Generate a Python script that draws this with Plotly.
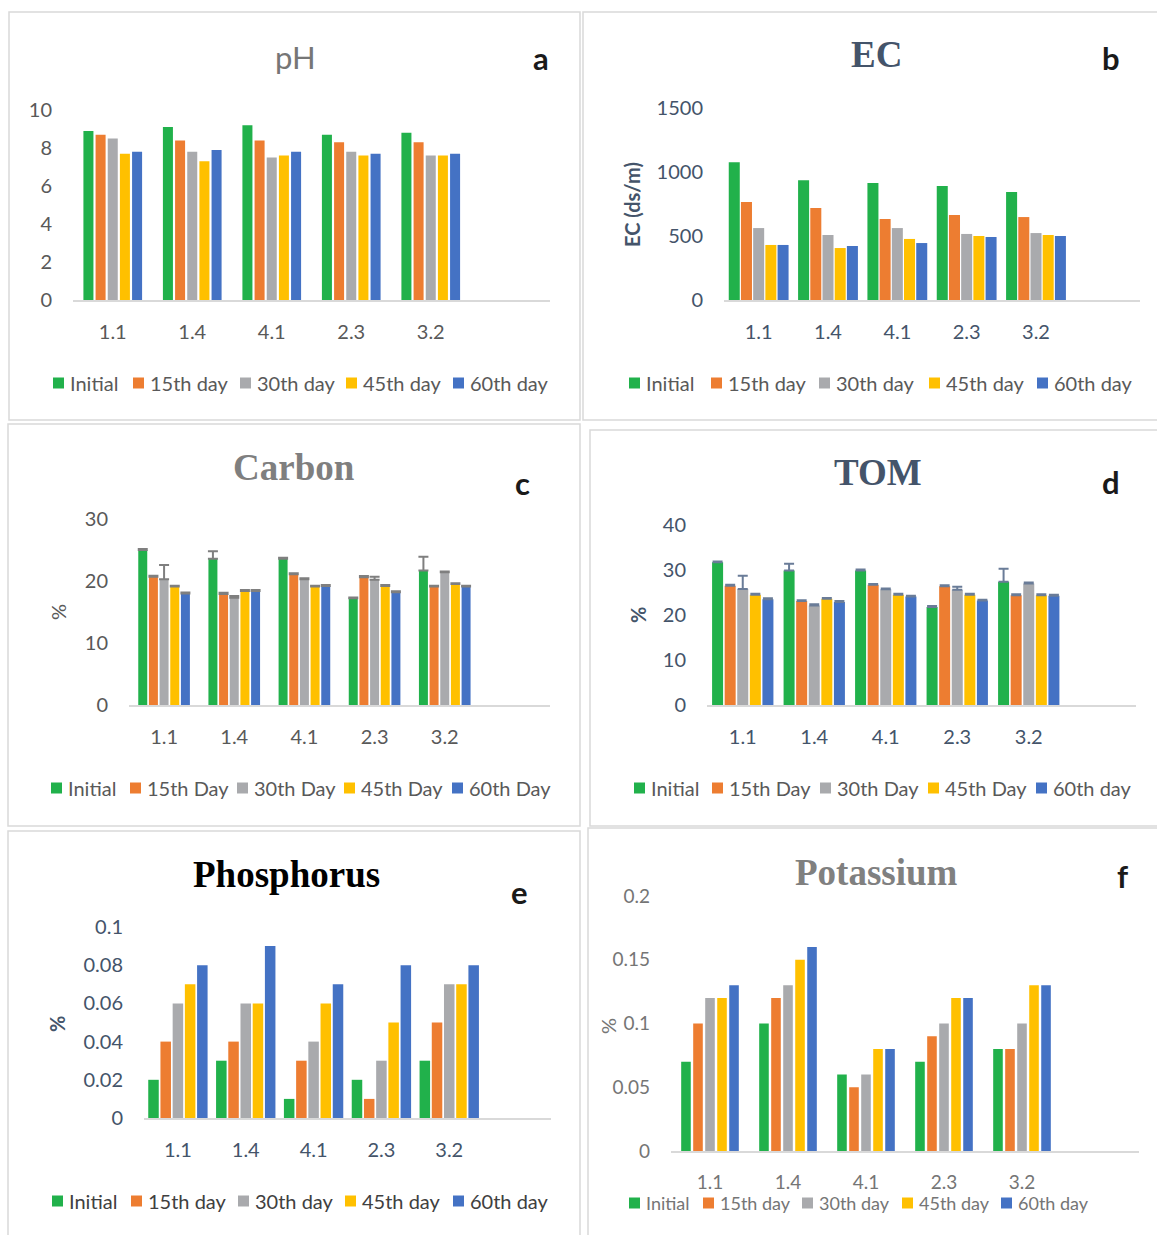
import plotly.graph_objects as go

W, H = 1157, 1235

# ---------------- data ----------------
categories = ["1.1", "1.4", "4.1", "2.3", "3.2"]

names_lower = ["Initial", "15th day", "30th day", "45th day", "60th day"]
names_upper = ["Initial", "15th Day", "30th Day", "45th Day", "60th Day"]
names_tom = ["Initial", "15th Day", "30th Day", "45th Day", "60th day"]

# rows: Initial, 15th, 30th, 45th, 60th ; columns follow categories
ph_values = [
    [8.9, 9.1, 9.2, 8.7, 8.8],
    [8.7, 8.4, 8.4, 8.3, 8.3],
    [8.5, 7.8, 7.5, 7.8, 7.6],
    [7.7, 7.3, 7.6, 7.6, 7.6],
    [7.8, 7.9, 7.8, 7.7, 7.7],
]
ec_values = [
    [1076, 935, 914, 891, 844],
    [766, 719, 633, 664, 648],
    [562, 508, 562, 516, 523],
    [430, 406, 477, 500, 508],
    [430, 422, 445, 492, 500],
]
carbon_values = [
    [25.0, 23.6, 23.6, 17.2, 21.7],
    [20.7, 17.9, 21.1, 20.6, 19.1],
    [20.3, 17.3, 20.3, 20.2, 21.4],
    [19.1, 18.4, 19.1, 19.2, 19.5],
    [18.0, 18.4, 19.2, 18.2, 19.1],
]
carbon_errors = [
    [0.15, 1.2, 0.15, 0.15, 2.2],
    [0.15, 0.2, 0.15, 0.2, 0.15],
    [2.3, 0.3, 0.15, 0.5, 0.15],
    [0.15, 0.15, 0.15, 0.15, 0.15],
    [0.15, 0.15, 0.15, 0.15, 0.15],
]
tom_values = [
    [31.7, 29.9, 29.9, 21.8, 27.4],
    [26.5, 23.1, 26.7, 26.4, 24.4],
    [25.8, 22.1, 25.7, 25.6, 27.0],
    [24.5, 23.6, 24.5, 24.5, 24.4],
    [23.5, 22.9, 24.1, 23.2, 24.3],
]
tom_errors = [
    [0.2, 1.5, 0.2, 0.2, 2.9],
    [0.2, 0.2, 0.2, 0.2, 0.2],
    [2.9, 0.3, 0.2, 0.7, 0.2],
    [0.2, 0.2, 0.2, 0.2, 0.2],
    [0.2, 0.2, 0.2, 0.2, 0.2],
]
phosphorus_values = [
    [0.02, 0.03, 0.01, 0.02, 0.03],
    [0.04, 0.04, 0.03, 0.01, 0.05],
    [0.06, 0.06, 0.04, 0.03, 0.07],
    [0.07, 0.06, 0.06, 0.05, 0.07],
    [0.08, 0.09, 0.07, 0.08, 0.08],
]
potassium_values = [
    [0.07, 0.10, 0.06, 0.07, 0.08],
    [0.10, 0.12, 0.05, 0.09, 0.08],
    [0.12, 0.13, 0.06, 0.10, 0.10],
    [0.12, 0.15, 0.08, 0.12, 0.13],
    [0.13, 0.16, 0.08, 0.12, 0.13],
]

# ---------------- style ----------------
colors = ["#21B14B", "#ED7D31", "#A9AAAD", "#FFC000", "#4472C4"]
SANS = "Lato, Calibri, Carlito, sans-serif"
SERIF = "Times New Roman, Liberation Serif, serif"
GREY = "#595959"
SLATE = "#44546A"


def fx(x):
    return x / W


def fy(y):
    return 1 - y / H


panels = [
    dict(title="pH", title_serif=False, title_color="#767676", title_xy=(295, 57),
         letter="a", letter_xy=(541, 58),
         values=ph_values, errors=None, names=names_lower,
         x0=73, x1=550, ybot=300, ytop=110, yrange=[0, 10], dtick=2,
         bw=0.126, pitch=0.153, tick_color=GREY, tick_size=20,
         ytitle=None,
         leg_sq=[53, 133, 240, 346, 453], leg_y=383, leg_font=20, leg_color=GREY),
    dict(title="EC", title_serif=True, title_color=SLATE, title_xy=(876, 55),
         letter="b", letter_xy=(1111, 58),
         values=ec_values, errors=None, names=names_lower,
         x0=724, x1=1140, ybot=300, ytop=108, yrange=[0, 1500], dtick=500,
         bw=0.159, pitch=0.176, tick_color=SLATE, tick_size=20,
         ytitle=("<b>EC (ds/m)</b>", 632, 205, SLATE, 20),
         leg_sq=[629, 711, 819, 929, 1037], leg_y=383, leg_font=20, leg_color=GREY),
    dict(title="Carbon", title_serif=True, title_color="#7F7F7F", title_xy=(294, 467),
         letter="c", letter_xy=(522, 483),
         values=carbon_values, errors=carbon_errors, err_color="#7F7F7F", names=names_upper,
         x0=129, x1=550, ybot=705, ytop=519, yrange=[0, 30], dtick=10,
         bw=0.128, pitch=0.152, tick_color=GREY, tick_size=20,
         ytitle=("%", 58, 612, GREY, 20),
         leg_sq=[51, 130, 237, 344, 452], leg_y=788, leg_font=20, leg_color=GREY),
    dict(title="TOM", title_serif=True, title_color=SLATE, title_xy=(878, 472),
         letter="d", letter_xy=(1111, 482),
         values=tom_values, errors=tom_errors, err_color="#6A7C98", names=names_tom,
         x0=707, x1=1136, ybot=705, ytop=525, yrange=[0, 40], dtick=10,
         bw=0.154, pitch=0.176, tick_color=SLATE, tick_size=20,
         ytitle=("<b>%</b>", 638, 615, SLATE, 20),
         leg_sq=[634, 712, 820, 928, 1036], leg_y=788, leg_font=20, leg_color=GREY),
    dict(title="Phosphorus", title_serif=True, title_color="#000000", title_xy=(286, 874),
         letter="e", letter_xy=(519, 892),
         values=phosphorus_values, errors=None, names=names_lower,
         x0=144, x1=551, ybot=1118, ytop=927, yrange=[0, 0.1], dtick=0.02,
         bw=0.155, pitch=0.18, tick_color=SLATE, tick_size=20,
         ytitle=("<b>%</b>", 57, 1024, SLATE, 20),
         leg_sq=[52, 131, 238, 345, 453], leg_y=1201, leg_font=20, leg_color="#404040"),
    dict(title="Potassium", title_serif=True, title_color="#808080", title_xy=(876, 872),
         letter="f", letter_xy=(1122, 876),
         values=potassium_values, errors=None, names=names_lower,
         x0=671, x1=1139, ybot=1151, ytop=896, yrange=[0, 0.2], dtick=0.05,
         bw=0.123, pitch=0.154, tick_color="#757575", tick_size=19,
         ytitle=("%", 608, 1026, "#757575", 20),
         leg_sq=[629, 703, 802, 902, 1001], leg_y=1203, leg_font=18, leg_color="#757575"),
]

# panel frames (px): x0, y0, x1, y1
frames = [
    (9, 12, 580, 420),
    (583, 12, 1160, 420),
    (8, 424, 580, 826),
    (590, 430, 1160, 826),
    (8, 831, 580, 1240),
    (588, 828, 1160, 1240),
]

fig = go.Figure()
layout = dict(
    width=W, height=H, margin=dict(l=0, r=0, t=0, b=0, autoexpand=False),
    paper_bgcolor="white", plot_bgcolor="rgba(0,0,0,0)",
    barmode="overlay", font=dict(family=SANS, color=GREY),
    showlegend=False, annotations=[], shapes=[],
)

SQ = 11  # legend square size (px)

for k, p in enumerate(panels):
    sfx = "" if k == 0 else str(k + 1)
    xa, ya = "x" + sfx, "y" + sfx
    for i in range(5):
        off = (i - 2) * p["pitch"] - p["bw"] / 2
        kw = {}
        if p["errors"] is not None:
            kw["error_y"] = dict(type="data", array=p["errors"][i], arrayminus=[0] * 5,
                                 symmetric=False, color=p["err_color"], thickness=2, width=5)
        fig.add_trace(go.Bar(
            x=categories, y=p["values"][i], name=p["names"][i],
            marker=dict(color=colors[i], line=dict(width=0)),
            width=p["bw"], offset=off, xaxis=xa, yaxis=ya,
            hoverinfo="x+y+name", **kw))
        # legend entry: colour square + label
        sx = p["leg_sq"][i]
        cy = p["leg_y"]
        layout["shapes"].append(dict(
            type="rect", xref="paper", yref="paper",
            x0=fx(sx), x1=fx(sx + SQ), y0=fy(cy + SQ / 2), y1=fy(cy - SQ / 2),
            fillcolor=colors[i], line=dict(width=0)))
        layout["annotations"].append(dict(
            text=p["names"][i], x=fx(sx + SQ + 4), y=fy(cy), xref="paper", yref="paper",
            xanchor="left", yanchor="middle", showarrow=False,
            font=dict(family=SANS, size=p["leg_font"], color=p["leg_color"])))
    layout["xaxis" + sfx] = dict(
        domain=[fx(p["x0"]), fx(p["x1"])], anchor=ya, type="category",
        categoryorder="array", categoryarray=categories, range=[-0.5, 5.5],
        showline=True, linecolor="#D9D9D9", linewidth=1.5, showgrid=False,
        zeroline=False, ticks="", tickfont=dict(size=p["tick_size"], color=p["tick_color"], family=SANS),
        ticklabelstandoff=13, fixedrange=True)
    layout["yaxis" + sfx] = dict(
        domain=[fy(p["ybot"]), fy(p["ytop"])], anchor=xa, range=p["yrange"],
        dtick=p["dtick"], tick0=0, showline=False, showgrid=False, zeroline=False,
        ticks="", tickfont=dict(size=p["tick_size"], color=p["tick_color"], family=SANS),
        ticklabelstandoff=20, fixedrange=True)
    # title
    if p["title_serif"]:
        ttxt, tfont = "<b>%s</b>" % p["title"], dict(family=SERIF, size=37, color=p["title_color"])
    else:
        ttxt, tfont = p["title"], dict(family=SANS, size=31, color=p["title_color"])
    layout["annotations"].append(dict(
        text=ttxt, x=fx(p["title_xy"][0]), y=fy(p["title_xy"][1]), xref="paper", yref="paper",
        xanchor="center", yanchor="middle", showarrow=False, font=tfont))
    layout["annotations"].append(dict(
        text="<b>%s</b>" % p["letter"], x=fx(p["letter_xy"][0]), y=fy(p["letter_xy"][1]),
        xref="paper", yref="paper", xanchor="center", yanchor="middle", showarrow=False,
        font=dict(family=SANS, size=31, color="#1A1A1A")))
    if p["ytitle"]:
        t, tx, ty, tc, ts = p["ytitle"]
        layout["annotations"].append(dict(
            text=t, x=fx(tx), y=fy(ty), xref="paper", yref="paper", textangle=-90,
            xanchor="center", yanchor="middle", showarrow=False,
            font=dict(family=SANS, size=ts, color=tc)))

for (x0, y0, x1, y1) in frames:
    layout["shapes"].append(dict(
        type="rect", xref="paper", yref="paper", x0=fx(x0), x1=fx(x1), y0=fy(y1), y1=fy(y0),
        line=dict(color="#D9D9D9", width=1.5), fillcolor="rgba(0,0,0,0)", layer="below"))

fig.update_layout(**layout)
fig.write_html("out.html", config={"displayModeBar": False},
               post_script="document.body.style.margin='0';document.body.style.overflow='hidden';")
